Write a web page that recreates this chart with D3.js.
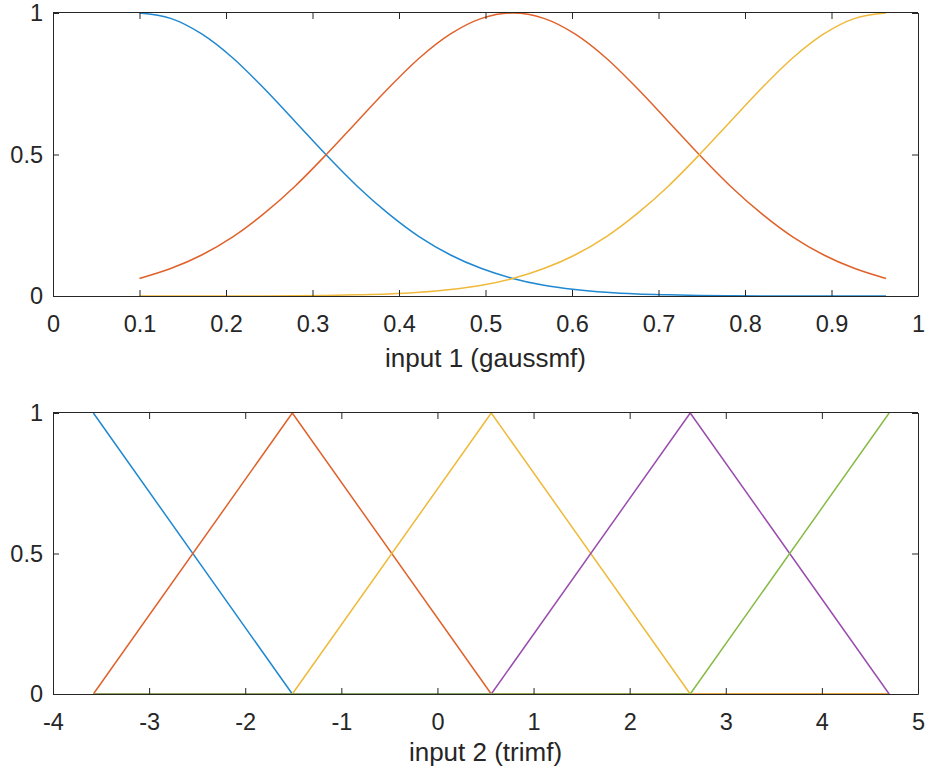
<!DOCTYPE html>
<html>
<head>
<meta charset="utf-8">
<script src="https://cdn.jsdelivr.net/npm/d3@7"></script>
<style>
  html, body { margin: 0; padding: 0; background: #fff; }
  svg { display: block; font-family: "Liberation Sans", Arial, Helvetica, sans-serif; }
</style>
</head>
<body>
<svg id="chart" width="928" height="771"></svg>
<script>
// ---------- Data ----------
// Panel 1: input 1 (gaussmf), sampled membership values
const x1Values = [0.1000, 0.1360, 0.1719, 0.2079, 0.2438, 0.2798, 0.3157, 0.3517, 0.3877, 0.4236, 0.4596, 0.4955, 0.5315,
                  0.5675, 0.6034, 0.6394, 0.6753, 0.7113, 0.7472, 0.7832, 0.8192, 0.8551, 0.8911, 0.9270, 0.9630];
const mf1Low  = [1, 0.981, 0.926, 0.841, 0.734, 0.617, 0.499, 0.388, 0.291, 0.209, 0.145, 0.097, 0.062,
                 0.038, 0.023, 0.013, 0.007, 0.004, 0.002, 0.001, 0.0004, 0.0002, 0.0001, 0, 0];
const mf1Mid  = [0.062, 0.097, 0.145, 0.209, 0.291, 0.388, 0.499, 0.617, 0.734, 0.841, 0.926, 0.981, 1,
                 0.981, 0.926, 0.841, 0.734, 0.617, 0.499, 0.388, 0.291, 0.209, 0.145, 0.097, 0.062];
const mf1High = [0, 0, 0.0001, 0.0002, 0.0004, 0.001, 0.002, 0.004, 0.007, 0.013, 0.023, 0.038, 0.062,
                 0.097, 0.145, 0.209, 0.291, 0.388, 0.499, 0.617, 0.734, 0.841, 0.926, 0.981, 1];
const x1Ticks = [0, 0.1, 0.2, 0.3, 0.4, 0.5, 0.6, 0.7, 0.8, 0.9, 1];
const x1TickLabels = ["0", "0.1", "0.2", "0.3", "0.4", "0.5", "0.6", "0.7", "0.8", "0.9", "1"];
const x1Label = "input 1 (gaussmf)";

// Panel 2: input 2 (trimf), break points
const x2Values = [-3.58, -1.51, 0.56, 2.63, 4.70];
const mf2A = [1, 0, 0, 0, 0];
const mf2B = [0, 1, 0, 0, 0];
const mf2C = [0, 0, 1, 0, 0];
const mf2D = [0, 0, 0, 1, 0];
const mf2E = [0, 0, 0, 0, 1];
const x2Ticks = [-4, -3, -2, -1, 0, 1, 2, 3, 4, 5];
const x2TickLabels = ["-4", "-3", "-2", "-1", "0", "1", "2", "3", "4", "5"];
const x2Label = "input 2 (trimf)";

const yTicks = [0, 0.5, 1];
const yTickLabels = ["0", "0.5", "1"];

const colors = ["#1f88d0", "#e0622b", "#efb93a", "#9a4dae", "#86bb45"];

// ---------- Drawing ----------
const svg = d3.select("#chart");
const axisColor = "#262626";
const left = 53, right = 918;
const tickFont = 23.5, labelFont = 26;

function panel(cfg) {
  const x = d3.scaleLinear().domain(cfg.xDomain).range([left, right]);
  const y = d3.scaleLinear().domain([0, 1]).range([cfg.bottom, cfg.top]);
  const g = svg.append("g");

  const line = d3.line().x(d => x(d[0])).y(d => y(d[1])).curve(cfg.curve);
  cfg.series.forEach((s, i) => {
    g.append("path")
      .datum(cfg.xs.map((xv, j) => [xv, s[j]]))
      .attr("fill", "none")
      .attr("stroke", colors[i])
      .attr("stroke-width", 1.5)
      .attr("stroke-linejoin", "round")
      .attr("d", line);
  });

  const tickLen = 6;
  const xb = d3.axisBottom(x).tickValues(cfg.xTicks).tickSize(-tickLen).tickPadding(19)
    .tickFormat((d, i) => cfg.xTickLabels[i]);
  const gxb = g.append("g").attr("transform", `translate(0,${cfg.bottom})`).call(xb);
  const xt = d3.axisTop(x).tickValues(cfg.xTicks).tickSize(-tickLen).tickFormat("");
  const gxt = g.append("g").attr("transform", `translate(0,${cfg.top})`).call(xt);
  const yl = d3.axisLeft(y).tickValues(yTicks).tickSize(-tickLen).tickPadding(10)
    .tickFormat((d, i) => yTickLabels[i]);
  const gyl = g.append("g").attr("transform", `translate(${left},0)`).call(yl);
  const yr = d3.axisRight(y).tickValues(yTicks).tickSize(-tickLen).tickFormat("");
  const gyr = g.append("g").attr("transform", `translate(${right},0)`).call(yr);

  [gxb, gxt, gyl, gyr].forEach(a => {
    a.attr("font-family", null).attr("font-size", null);
    a.selectAll(".domain").attr("stroke", axisColor).attr("stroke-width", 1);
    a.selectAll(".tick line").attr("stroke", axisColor).attr("stroke-width", 1);
    a.selectAll(".tick text").attr("fill", axisColor).style("font-size", tickFont + "px");
  });
  gxb.selectAll(".domain").attr("d", `M${left},0.5H${right}`);
  gxt.selectAll(".domain").attr("d", `M${left},-0.5H${right}`);

  g.append("text")
    .attr("x", (left + right) / 2)
    .attr("y", cfg.bottom + cfg.labelOffset)
    .attr("text-anchor", "middle")
    .attr("fill", axisColor)
    .style("font-size", labelFont + "px")
    .text(cfg.xLabel);
}

panel({
  xDomain: [0, 1], top: 13, bottom: 296, labelOffset: 71,
  xs: x1Values, series: [mf1Low, mf1Mid, mf1High], curve: d3.curveMonotoneX,
  xTicks: x1Ticks, xTickLabels: x1TickLabels, xLabel: x1Label
});
panel({
  xDomain: [-4, 5], top: 413, bottom: 694, labelOffset: 67,
  xs: x2Values, series: [mf2A, mf2B, mf2C, mf2D, mf2E], curve: d3.curveLinear,
  xTicks: x2Ticks, xTickLabels: x2TickLabels, xLabel: x2Label
});
</script>
</body>
</html>
